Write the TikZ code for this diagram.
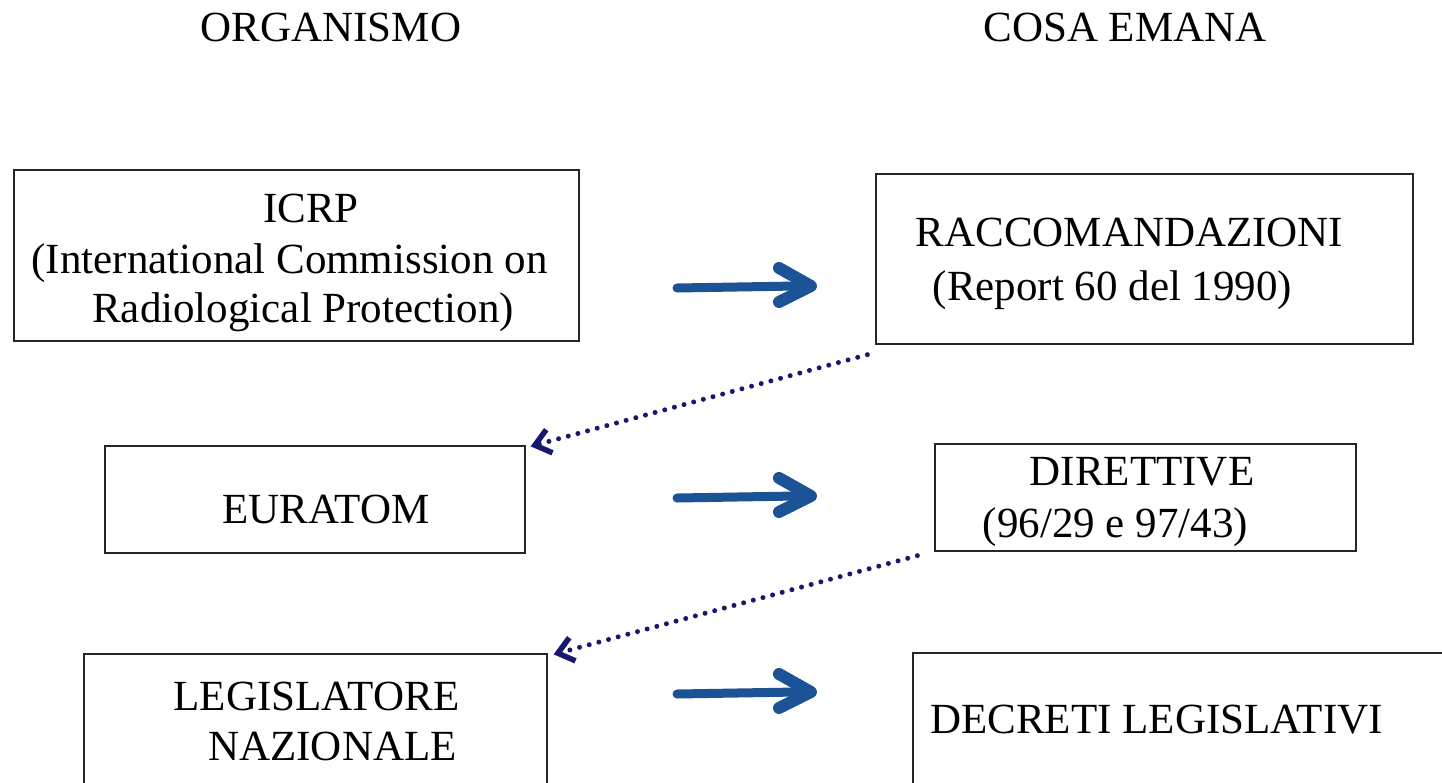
\documentclass[tikz,border=0pt]{standalone}
\usepackage{fontspec}
\setmainfont{Liberation Serif}
\usetikzlibrary{arrows.meta}
\definecolor{arrowblue}{RGB}{28,82,150}
\definecolor{dotnavy}{RGB}{24,24,110}
\begin{document}
\begin{tikzpicture}[x=1pt,y=-1pt,
  box/.style={draw=black!85, line width=1.3pt, inner sep=0pt},
  txt/.style={anchor=base, inner sep=0pt, font=\fontsize{43}{51}\selectfont},
  flow/.style={draw=arrowblue, line width=9pt, line cap=round},
  chev/.style={draw=arrowblue, line width=12pt, line cap=round, line join=round},
  dotarrow/.style={draw=dotnavy, line width=5pt, line cap=round, dash pattern=on 0pt off 10pt,
    -{Straight Barb[length=15pt,width=24pt,line width=5.5pt]}}]
\useasboundingbox (0,0) rectangle (1442,782);
\clip (0,0) rectangle (1442,782);
\fill[white] (0,0) rectangle (1442,782);

% headers
\node[txt] (h1) at (331,41) {ORGANISMO};
\node[txt] (h2) at (1125,41) {COSA EMANA};

% boxes
\node[box, minimum width=565pt, minimum height=171pt] (icrp)  at (296.5,255.5) {};
\node[box, minimum width=537pt, minimum height=170pt] (racc)  at (1144.5,259) {};
\node[box, minimum width=420pt, minimum height=107pt] (eura)  at (315,499.5) {};
\node[box, minimum width=421pt, minimum height=107pt] (dir)   at (1145.5,497.5) {};
\node[box, minimum width=463pt, minimum height=146pt] (legis) at (315.5,727) {};
\node[box, minimum width=547pt, minimum height=147pt] (decr)  at (1186.5,726.5) {};

% texts
\node[txt] (t1) at (311,222) {ICRP};
\node[txt] (t2) at (289.5,273) {(International Commission on};
\node[txt] (t3) at (303,322) {Radiological Protection)};
\node[txt] (t4) at (1129.5,246) {RACCOMANDAZIONI};
\node[txt] (t5) at (1112.5,300) {(Report 60 del 1990)};
\node[txt] (t6) at (326,523) {EURATOM};
\node[txt] (t7) at (1142,485) {DIRETTIVE};
\node[txt] (t8) at (1115.5,537) {(96/29 e 97/43)};
\node[txt] (t9) at (316.5,710) {LEGISLATORE};
\node[txt] (t10) at (332.5,760) {NAZIONALE};
\node[txt] (t11) at (1156.5,733) {DECRETI LEGISLATIVI};

% blue arrows
\coordinate (a1s) at (677,288);
\coordinate (a1t) at (811,286);
\coordinate (a2s) at (677,498);
\coordinate (a2t) at (811,496);
\coordinate (a3s) at (677,694);
\coordinate (a3t) at (811,692);
\foreach \s/\t in {a1s/a1t,a2s/a2t,a3s/a3t}{
  \draw[flow] (\s) -- ([xshift=-14]\t);
  \draw[chev] ([shift={(-32,-18)}]\t) -- (\t) -- ([shift={(-32,16)}]\t);
}

% dotted arrows
\draw[dotarrow] ([shift={(-8,10)}]racc.south west) -- ([shift={(5,1)}]eura.north east);
\draw[dotarrow] ([shift={(-17,4)}]dir.south west) -- ([shift={(6,1)}]legis.north east);
\end{tikzpicture}
\end{document}
